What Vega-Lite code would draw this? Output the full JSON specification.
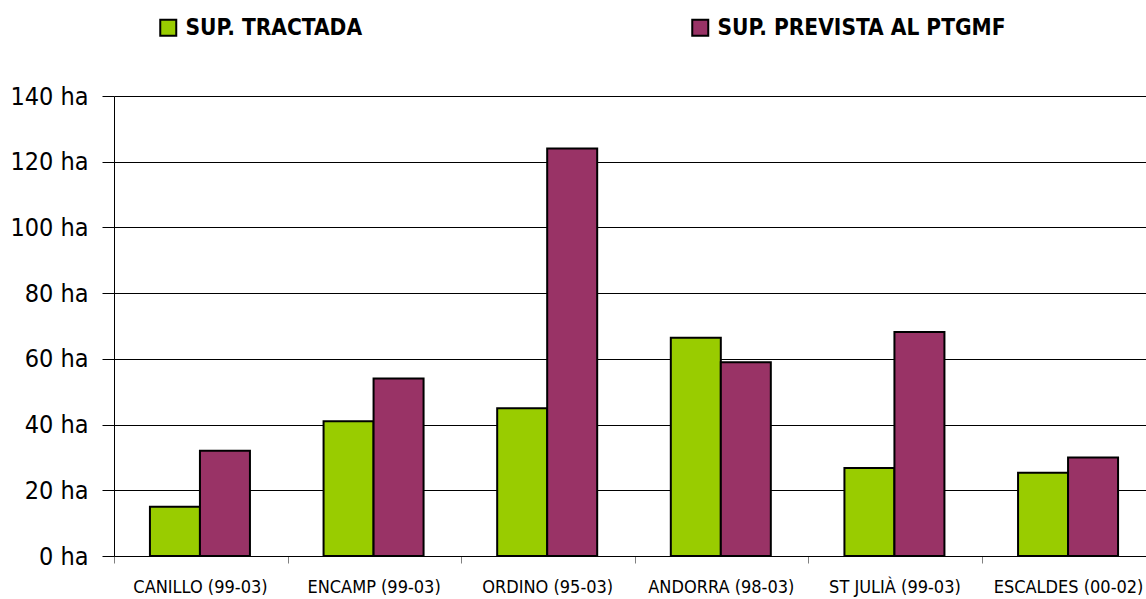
{
  "$schema": "https://vega.github.io/schema/vega-lite/v6.json",
  "width": 1040,
  "height": 460,
  "autosize": "none",
  "padding": {"left": 114, "top": 96, "right": 0, "bottom": 43},
  "background": "white",
  "config": {
    "font": "DejaVu Sans Condensed, sans-serif",
    "view": {"stroke": null}
  },
  "data": {
    "values": [
      {"zona": "CANILLO (99-03)", "serie": "SUP. TRACTADA", "ha": 15},
      {"zona": "CANILLO (99-03)", "serie": "SUP. PREVISTA AL PTGMF", "ha": 32},
      {"zona": "ENCAMP (99-03)", "serie": "SUP. TRACTADA", "ha": 41},
      {"zona": "ENCAMP (99-03)", "serie": "SUP. PREVISTA AL PTGMF", "ha": 54},
      {"zona": "ORDINO (95-03)", "serie": "SUP. TRACTADA", "ha": 45},
      {"zona": "ORDINO (95-03)", "serie": "SUP. PREVISTA AL PTGMF", "ha": 124},
      {"zona": "ANDORRA (98-03)", "serie": "SUP. TRACTADA", "ha": 66.4},
      {"zona": "ANDORRA (98-03)", "serie": "SUP. PREVISTA AL PTGMF", "ha": 59},
      {"zona": "ST JULIÀ (99-03)", "serie": "SUP. TRACTADA", "ha": 26.8},
      {"zona": "ST JULIÀ (99-03)", "serie": "SUP. PREVISTA AL PTGMF", "ha": 68.2},
      {"zona": "ESCALDES (00-02)", "serie": "SUP. TRACTADA", "ha": 25.3},
      {"zona": "ESCALDES (00-02)", "serie": "SUP. PREVISTA AL PTGMF", "ha": 30}
    ]
  },
  "mark": {"type": "bar", "stroke": "black", "strokeWidth": 2},
  "encoding": {
    "x": {
      "field": "zona",
      "type": "nominal",
      "sort": null,
      "title": null,
      "scale": {"paddingInner": 0.424, "paddingOuter": 0.207},
      "axis": {
        "labelAngle": 0,
        "labelFontSize": 18,
        "labelColor": "black",
        "labelPadding": 15,
        "tickOffset": -86,
        "labelOffset": 86,
        "tickSize": 7,
        "tickColor": "#808080",
        "domainColor": "black",
        "domain": true,
        "grid": false
      }
    },
    "xOffset": {
      "field": "serie",
      "type": "nominal",
      "sort": ["SUP. TRACTADA", "SUP. PREVISTA AL PTGMF"],
      "scale": {"paddingInner": 0, "paddingOuter": 0}
    },
    "y": {
      "field": "ha",
      "type": "quantitative",
      "title": null,
      "scale": {"domain": [0, 140], "nice": false},
      "axis": {
        "values": [0, 20, 40, 60, 80, 100, 120, 140],
        "labelExpr": "datum.value + ' ha'",
        "labelFontSize": 25,
        "labelColor": "black",
        "labelPadding": 14,
        "tickSize": 12,
        "tickColor": "black",
        "domainColor": "black",
        "grid": true,
        "gridColor": "black",
        "gridWidth": 1
      }
    },
    "color": {
      "field": "serie",
      "type": "nominal",
      "sort": ["SUP. TRACTADA", "SUP. PREVISTA AL PTGMF"],
      "scale": {"domain": ["SUP. TRACTADA", "SUP. PREVISTA AL PTGMF"], "range": ["#99CC00", "#993366"]},
      "legend": {
        "title": null,
        "orient": "none",
        "legendX": 43,
        "legendY": -80,
        "direction": "horizontal",
        "symbolType": "square",
        "symbolSize": 256,
        "symbolStrokeColor": "black",
        "symbolStrokeWidth": 2,
        "symbolOpacity": 1,
        "labelFontSize": 22.5,
        "labelFontWeight": "bold",
        "labelColor": "black",
        "labelOffset": 6,
        "columnPadding": 325,
        "labelLimit": 400
      }
    }
  }
}
